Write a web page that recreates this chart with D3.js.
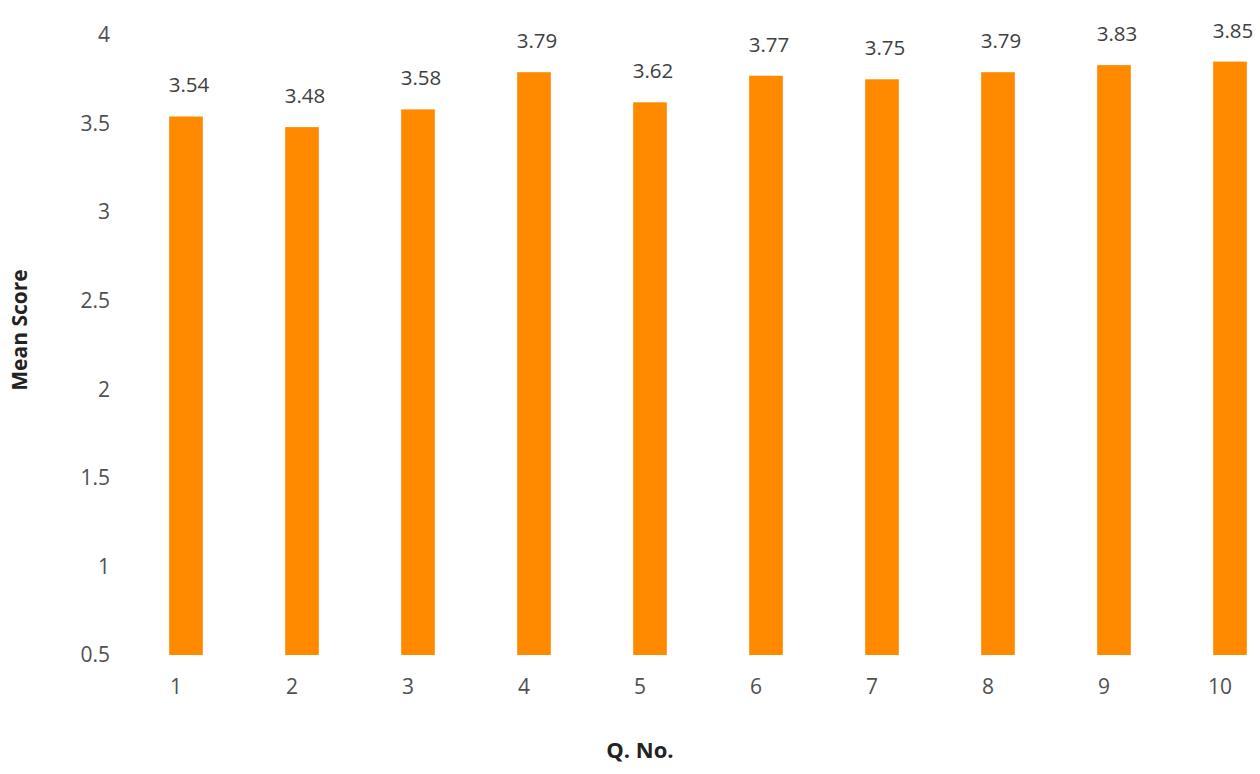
<!DOCTYPE html>
<html><head><meta charset="utf-8">
<script src="https://cdn.jsdelivr.net/npm/d3@7"></script>
<style>body{margin:0;background:#fff}svg{display:block}</style>
</head><body>
<svg id="c" width="1260" height="774"></svg>
<script>
const categories = ["1","2","3","4","5","6","7","8","9","10"];
const meanScores = [3.54,3.48,3.58,3.79,3.62,3.77,3.75,3.79,3.83,3.85];
const yTicks = [0.5,1,1.5,2,2.5,3,3.5,4];
const yTickLabels = ["0.5","1","1.5","2","2.5","3","3.5","4"];

const svg = d3.select("#c");
const font = "'Open Sans', 'Liberation Sans', sans-serif";
const x = d3.scaleBand().domain(categories).range([128, 1288]).paddingInner(0.71).paddingOuter(0.355);
const y = d3.scaleLinear().domain([0.5, 4]).range([655, 35]);

svg.append("g").selectAll("rect").data(meanScores).join("rect")
  .attr("x", (d,i) => x(categories[i]))
  .attr("width", x.bandwidth())
  .attr("y", d => y(d))
  .attr("height", d => y(0.5) - y(d))
  .attr("fill", "#ff8a00");

svg.append("g").selectAll("text").data(meanScores).join("text")
  .attr("x", (d,i) => x(categories[i]) + x.bandwidth()/2 + 3)
  .attr("y", d => y(d) - 24)
  .attr("text-anchor", "middle")
  .attr("font-family", font).attr("font-size", 20.5).attr("fill", "#404040")
  .text(d => d.toFixed(2));

const ya = d3.axisLeft(y).tickValues(yTicks).tickFormat((d,i) => yTickLabels[i]).tickSize(0).tickPadding(0);
const gy = svg.append("g").attr("transform", "translate(110,0)").call(ya);
gy.select(".domain").remove();
gy.selectAll("text").attr("font-family", font).attr("font-size", 21).attr("fill", "#505050");

const xa = d3.axisBottom(x).tickSize(0).tickPadding(0);
const gx = svg.append("g").attr("transform", "translate(-10,675)").call(xa);
gx.select(".domain").remove();
gx.selectAll("text").attr("font-family", font).attr("font-size", 21).attr("fill", "#505050").attr("dy", "0.9em");

svg.append("text").attr("transform", "translate(27,330) rotate(-90)")
  .attr("text-anchor", "middle").attr("font-family", font).attr("font-weight", "bold")
  .attr("font-size", 21).attr("fill", "#222").text("Mean Score");
svg.append("text").attr("x", 640).attr("y", 758)
  .attr("text-anchor", "middle").attr("font-family", font).attr("font-weight", "bold")
  .attr("font-size", 22).attr("fill", "#222").text("Q. No.");
</script>
</body></html>
